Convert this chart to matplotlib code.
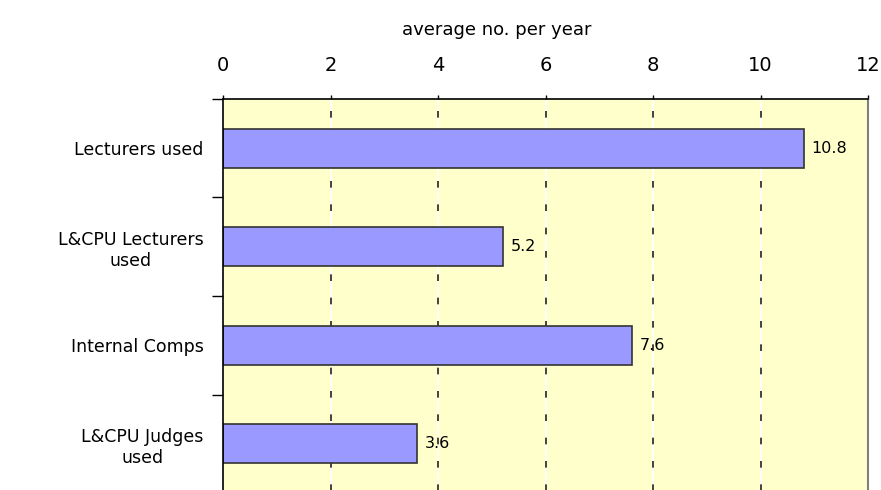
import matplotlib.pyplot as plt
import numpy as np

# ------------------ Data ------------------
categories = ["Lecturers used", "L&CPU Lecturers\nused", "Internal Comps", "L&CPU Judges\nused"]
values = [10.8, 5.2, 7.6, 3.6]
value_labels = ["10.8", "5.2", "7.6", "3.6"]
x_ticks = [0, 2, 4, 6, 8, 10, 12]

# ------------------ Style ------------------
plt.rcParams.update({
    'font.family': 'DejaVu Sans',
    'text.color': '#000000',
})

fig = plt.figure(figsize=(8.81, 4.90), dpi=100)
ax = fig.add_axes([223 / 881, -3 / 490, 645 / 881, 394 / 490])
ax.set_facecolor('#FFFFCC')

y = np.arange(len(categories))

# gridlines: white line with black dashes on top
for gx in x_ticks[1:-1]:
    ax.axvline(gx, color='white', linewidth=1.2, zorder=1)
    ax.axvline(gx, color='#222222', linewidth=1.2, linestyle=(0, (4, 10)), zorder=1.1)

ax.barh(y, values, height=0.4, color='#9999FF', edgecolor='#333333',
        linewidth=1.2, zorder=2)

for yi, v, lab in zip(y, values, value_labels):
    ax.text(v + 0.15, yi, lab, va='center', ha='left', fontsize=11.5, zorder=3)

ax.set_xlim(0, 12)
ax.set_ylim(len(categories) - 0.5, -0.5)

ax.xaxis.tick_top()
ax.set_xticks(x_ticks)
ax.tick_params(axis='x', direction='out', length=3, width=1, pad=14, labelsize=14)

# category ticks at boundaries, labels centred on bars
ax.set_yticks(np.arange(-0.5, len(categories), 1.0))
ax.set_yticklabels([])
ax.set_yticks(y, minor=True)
ax.set_yticklabels(categories, minor=True, fontsize=12.5, multialignment='center')
ax.tick_params(axis='y', which='major', direction='out', length=8, width=1)
ax.tick_params(axis='y', which='minor', length=0, pad=14)

for s in ['top', 'left']:
    ax.spines[s].set_color('#000000')
    ax.spines[s].set_linewidth(1.2)
ax.spines['right'].set_color('#808080')
ax.spines['right'].set_linewidth(1.5)
ax.spines['bottom'].set_visible(False)

fig.text(497 / 881, 1 - 30 / 490, "average no. per year", ha='center', va='center', fontsize=13)

fig.savefig("out.png", dpi=100)
